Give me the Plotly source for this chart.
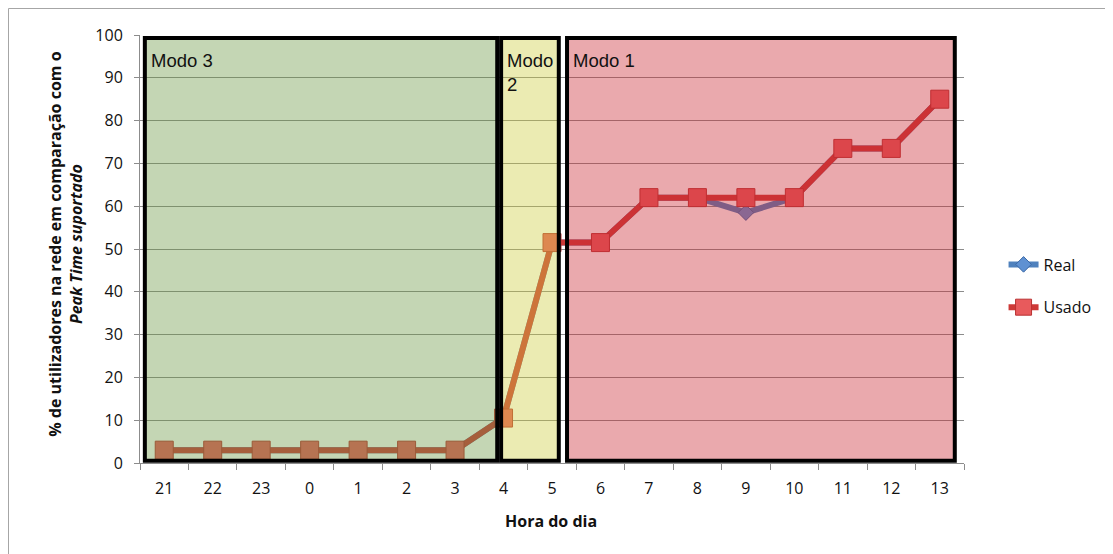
import plotly.graph_objects as go

horas = ["21", "22", "23", "0", "1", "2", "3", "4", "5", "6", "7", "8", "9", "10", "11", "12", "13"]
real = [3, 3, 3, 3, 3, 3, 3, 10.5, 51.5, 51.5, 62, 62, 58.5, 62, 73.5, 73.5, 85]
usado = [3, 3, 3, 3, 3, 3, 3, 10.5, 51.5, 51.5, 62, 62, 62, 62, 73.5, 73.5, 85]

# mode regions: (label, x0, x1, fill) in category index units
modos = [
    ("Modo 3", -0.4, 6.87, "rgba(107,152,67,0.4)"),
    ("Modo<br>2", 6.95, 8.14, "rgba(205,205,62,0.4)"),
    ("Modo 1", 8.31, 16.31, "rgba(202,40,50,0.4)"),
]

x_idx = list(range(len(horas)))

fig = go.Figure()

fig.add_trace(go.Scatter(
    x=x_idx, y=real, name="Real", mode="lines+markers", legendgroup="r",
    line=dict(color="rgb(79,129,189)", width=6),
    marker=dict(symbol="diamond", size=12, color="rgb(95,145,210)", line=dict(color="rgb(60,105,165)", width=1)),
))
fig.add_trace(go.Scatter(
    x=x_idx, y=usado, name="Usado", mode="lines+markers", legendgroup="u",
    line=dict(color="rgb(205,57,55)", width=6),
    marker=dict(symbol="square", size=18, color="rgb(232,90,92)", line=dict(color="rgb(185,50,50)", width=1)),
))

shapes = []
annotations = []
for label, x0, x1, fill in modos:
    shapes.append(dict(
        type="rect", xref="x", yref="y", x0=x0, x1=x1, y0=0.5, y1=99.3,
        fillcolor=fill, line=dict(color="black", width=4), layer="above",
    ))
    annotations.append(dict(
        x=x0 + 0.08, y=97, xref="x", yref="y", text=label, showarrow=False,
        xanchor="left", yanchor="top", align="left",
        font=dict(family="Liberation Sans", size=18.5, color="#111111"),
    ))

# axis titles
annotations.append(dict(
    x=-0.09, y=0.512, xref="paper", yref="paper", textangle=-90, showarrow=False,
    text="<b>% de utilizadores na rede em comparação com o<br><i>Peak Time suportado</i></b>",
    font=dict(size=16), xanchor="center", yanchor="middle",
))
annotations.append(dict(
    x=0.499, y=-0.1355, xref="paper", yref="paper", showarrow=False,
    text="<b>Hora do dia</b>", font=dict(size=16), xanchor="center", yanchor="middle",
))

# outer chart frame
shapes.append(dict(
    type="rect", xref="paper", yref="paper", x0=-131.5 / 824, x1=1.3, y0=-0.4, y1=1 + 26.5 / 428,
    line=dict(color="#A6A6A6", width=1), fillcolor="rgba(0,0,0,0)", layer="below",
))

fig.update_layout(
    width=1105, height=546,
    margin=dict(l=132, r=149, t=27, b=91, autoexpand=False),
    paper_bgcolor="white", plot_bgcolor="white",
    font=dict(family="Open Sans", size=16, color="#111111"),
    shapes=shapes, annotations=annotations,
    showlegend=True,
    legend=dict(x=1.048, y=0.4136, xanchor="left", yanchor="middle",
                font=dict(size=16), traceorder="grouped", tracegroupgap=19,
                bgcolor="rgba(0,0,0,0)"),
    xaxis=dict(
        range=[-0.5, len(horas) - 0.5], automargin=False,
        tickmode="array", tickvals=x_idx, ticktext=horas,
        showgrid=False, showline=True, linecolor="#8C8C8C", linewidth=1,
        ticks="", zeroline=False, ticklabelstandoff=11,
    ),
    xaxis2=dict(
        overlaying="x", range=[-0.5, len(horas) - 0.5], tickmode="array",
        tickvals=[i - 0.5 for i in range(len(horas) + 1)], showticklabels=False,
        ticks="outside", ticklen=6, tickcolor="#8C8C8C", showgrid=False,
        showline=False, zeroline=False, side="bottom", anchor="y",
    ),
    yaxis=dict(
        range=[0, 100], dtick=10, showgrid=True, gridcolor="#8C8C8C", gridwidth=1,
        showline=True, linecolor="#8C8C8C", ticks="outside", ticklen=5,
        tickcolor="#8C8C8C", zeroline=False, automargin=False, ticklabelstandoff=8,
    ),
)

# invisible trace to show the between-category ticks
fig.add_trace(go.Scatter(x=[0], y=[None], xaxis="x2", showlegend=False, hoverinfo="skip"))

fig.write_html("out.html")
